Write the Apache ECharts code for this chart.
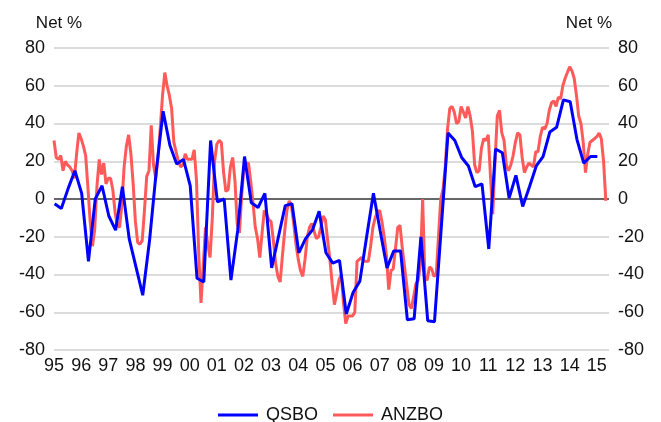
<!DOCTYPE html>
<html>
<head>
<meta charset="utf-8">
<script src="https://cdn.jsdelivr.net/npm/echarts@6/dist/echarts.min.js"></script>
<style>
  html, body { margin: 0; padding: 0; background: #fff; }
  #chart { width: 661px; height: 422px; }
</style>
</head>
<body>
<div id="chart"></div>
<script>
// QSBO, quarterly from 1995 Q1
const qsbo = [
  -2.5, -5, 5.5, 15,
  3, -33, 0, 7,
  -9, -16.5, 6.5, -21,
  -36, -51, -22, 15,
  46.5, 28.5, 18.5, 21,
  7, -42, -44, 31,
  -1.5, 0, -43, -16.5,
  22.5, -2, -4.5, 3,
  -36.5, -20, -3.5, -2.5,
  -28.5, -21, -16.5, -6.5,
  -28.5, -34, -32.5, -61,
  -49.5, -43.5, -20, 3,
  -17, -36.5, -27.5, -27.5,
  -64, -63.5, -20, -64.5,
  -65, -15, 35, 31,
  22, 17.5, 6.5, 8,
  -26.5, 26.5, 24.5, 0.5,
  12.5, -4, 6.5, 17.5,
  22.5, 35.5, 38, 52.5,
  51.5, 31.5, 19, 22.5,
  22.5
]

// ANZBO, monthly from Jan 1995
const anzbo = [
  31, 22, 21, 23, 15, 20, 18, 17, 15, 11, 24, 35,             // 95
  32, 28, 23, 6, -12, -25, -16, 7, 21, 13, 19, 8,              // 96
  11, 11, 5, -7, -14, -15, -3, 17, 28, 34, 24, 8,              // 97
  -12, -23, -24, -22, -6, 12, 15, 39, 18, 11, 22, 38,          // 98
  55, 67, 60, 55, 48, 30, 25, 20, 17, 18, 24, 21,              // 99
  21, 21, 26, 10, -29, -55, -35, -15, -24, -31, -10, 20,       // 00
  29, 31, 30, 14, 4, 5, 17, 22, 10, -13, -18, 2,               // 01
  17, 19, 19, 9, -2, -15, -21, -31, -18, -6, -8, -11,          // 02
  -12, -22, -34, -41, -44, -30, -17, -6, -1, -4, -13, -24,     // 03
  -32, -38, -41, -32, -20, -15, -13, -17, -21, -20, -15, -9,   // 04
  -11, -22, -32, -45, -56, -50, -43, -40, -55, -66, -62, -62,  // 05
  -62, -60, -33, -32, -31, -33, -33, -33, -25, -15, -10, -7,   // 06
  -6, -12, -20, -30, -48, -38, -37, -26, -15, -14, -26, -36,   // 07
  -46, -56, -58, -52, -45, -43, -35, 0, -42, -43, -36, -37,    // 08
  -41, -40, -20, 0, 5, 17, 37, 48, 49, 46, 40, 41,             // 09
  49, 46, 43, 49, 44, 36, 18, 14, 15, 27, 32, 31,              // 10
  34, 12, -8, 20, 44, 47, 35, 31, 18, 15, 18, 23,              // 11
  30, 35, 34, 22, 14, 17, 19, 18, 17, 25, 25, 33,              // 12
  38, 37, 40, 47, 51, 52, 49, 54, 53, 60, 64, 67,              // 13
  70, 68, 64, 55, 44, 40, 30, 14, 24, 30, 31, 32,              // 14
  33, 35, 32, 20, -1                                           // 15
]

const yearLabel = v => Number.isInteger(v) ? String(v % 100).padStart(2, '0') : ''

const qsboData = qsbo.map((v, i) => [1995.02 + i / 4, v])
const anzboData = anzbo.map((v, i) => [1995 + i / 12, v])

const FONT = "'Liberation Sans', Arial, sans-serif"
const yAxisBase = {
  type: 'value',
  min: -80,
  max: 80,
  interval: 20,
  name: 'Net %',
  nameLocation: 'end',
  nameGap: 16,
  axisLine: { show: false },
  axisTick: { show: false },
  axisLabel: { fontSize: 18, color: '#111', fontFamily: FONT, margin: 9 },
}

const chart = echarts.init(document.getElementById('chart'))
chart.setOption({
  animation: false,
  textStyle: { fontFamily: FONT },
  grid: { left: 54, right: 52, top: 48, bottom: 72 },
  legend: {
    left: 'center',
    top: 401,
    icon: 'rect',
    itemWidth: 40,
    itemHeight: 3,
    itemGap: 15,
    textStyle: { fontSize: 18, color: '#111', fontFamily: FONT, padding: [0, 0, 0, 3] },
    data: ['QSBO', 'ANZBO']
  },
  xAxis: {
    type: 'value',
    min: 1995,
    max: 2015.45,
    interval: 1,
    axisLine: { show: false },
    axisTick: { show: false },
    splitLine: { show: false },
    axisLabel: { fontSize: 18, color: '#111', fontFamily: FONT, margin: 7, formatter: yearLabel, showMaxLabel: false }
  },
  yAxis: [
    Object.assign({}, yAxisBase, {
      position: 'left',
      nameTextStyle: { fontSize: 17, color: '#111', fontFamily: FONT, align: 'center', padding: [0, 0, 0, 10] },
      splitLine: { lineStyle: { color: '#d0d0d0', width: 1.5 } }
    }),
    Object.assign({}, yAxisBase, {
      position: 'right',
      nameTextStyle: { fontSize: 17, color: '#111', fontFamily: FONT, align: 'center', padding: [0, 40, 0, 0] },
      splitLine: { show: false }
    })
  ],
  series: [
    {
      name: 'ANZBO',
      type: 'line',
      data: anzboData,
      showSymbol: false,
      color: '#ff5a5a',
      lineStyle: { width: 3, color: '#ff5a5a' },
      z: 2
    },
    {
      name: 'QSBO',
      type: 'line',
      data: qsboData,
      showSymbol: false,
      color: '#0000ff',
      lineStyle: { width: 3, color: '#0000ff' },
      z: 3,
      markLine: {
        silent: true,
        symbol: 'none',
        z: 1,
        label: { show: false },
        lineStyle: { color: '#404040', width: 1.5, type: 'solid' },
        data: [{ yAxis: 0 }]
      }
    }
  ]
})
</script>
</body>
</html>
